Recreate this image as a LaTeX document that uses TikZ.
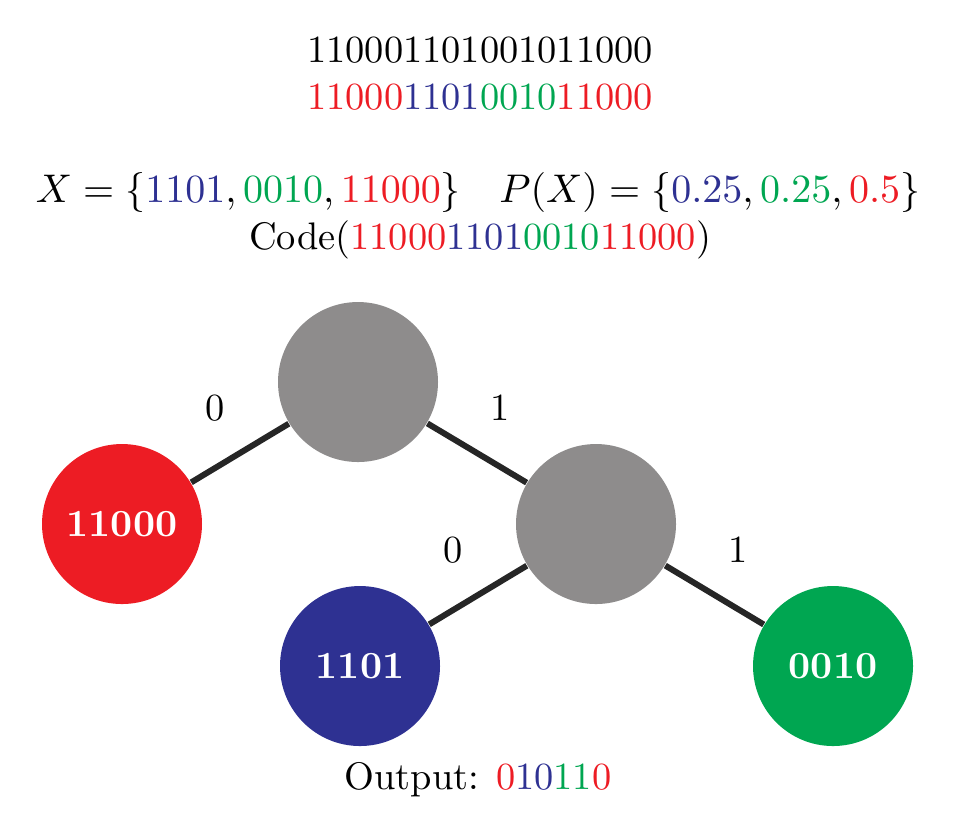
\documentclass[tikz,border=0pt]{standalone}
\usepackage{xcolor}
\definecolor{cr}{HTML}{ED1C24}
\definecolor{cb}{HTML}{2E3192}
\definecolor{cg}{HTML}{00A651}
\definecolor{cgr}{HTML}{8E8C8C}
\begin{document}
\begin{tikzpicture}[x=0.25pt,y=-0.25pt,
  circ/.style={circle,minimum size=40pt,inner sep=0pt,text=white,font=\fontsize{9.6}{11}\selectfont\bfseries},
  edge/.style={line width=1.5pt,black!85},
  lab/.style={font=\fontsize{9.6}{11}\selectfont},
  txt/.style={font=\fontsize{9.6}{11}\selectfont}]
\useasboundingbox (0,0) rectangle (960,818);
\node[txt] (l1) at (480,50) {110001101001011000};
\node[txt] (l2) at (480,97) {\textcolor{cr}{11000}\textcolor{cb}{1101}\textcolor{cg}{0010}\textcolor{cr}{11000}};
\node[txt] (l3) at (478,192) {$X=\{\textcolor{cb}{1101},\textcolor{cg}{0010},\textcolor{cr}{11000}\}\quad P(X)=\{\textcolor{cb}{0.25},\textcolor{cg}{0.25},\textcolor{cr}{0.5}\}$};
\node[txt] (l4) at (480,240) {Code(\textcolor{cr}{11000}\textcolor{cb}{1101}\textcolor{cg}{0010}\textcolor{cr}{11000})};
\node[circ,fill=cgr] (g1) at (358,382) {};
\node[circ,fill=cgr] (g2) at (596,524) {};
\node[circ,fill=cr] (r) at (122,524) {11000};
\node[circ,fill=cb] (b) at (360,666) {1101};
\node[circ,fill=cg] (g) at (833,666) {0010};
\draw[edge] (g1) -- (r);
\draw[edge] (g1) -- (g2);
\draw[edge] (g2) -- (b);
\draw[edge] (g2) -- (g);
\node[lab] (e1) at (215,408) {0};
\node[lab] (e2) at (500,408) {1};
\node[lab] (e3) at (453,550) {0};
\node[lab] (e4) at (738,550) {1};
\node[txt] (out) at (478,780) {Output: \textcolor{cr}{0}\textcolor{cb}{10}\textcolor{cg}{11}\textcolor{cr}{0}};
\end{tikzpicture}
\end{document}
